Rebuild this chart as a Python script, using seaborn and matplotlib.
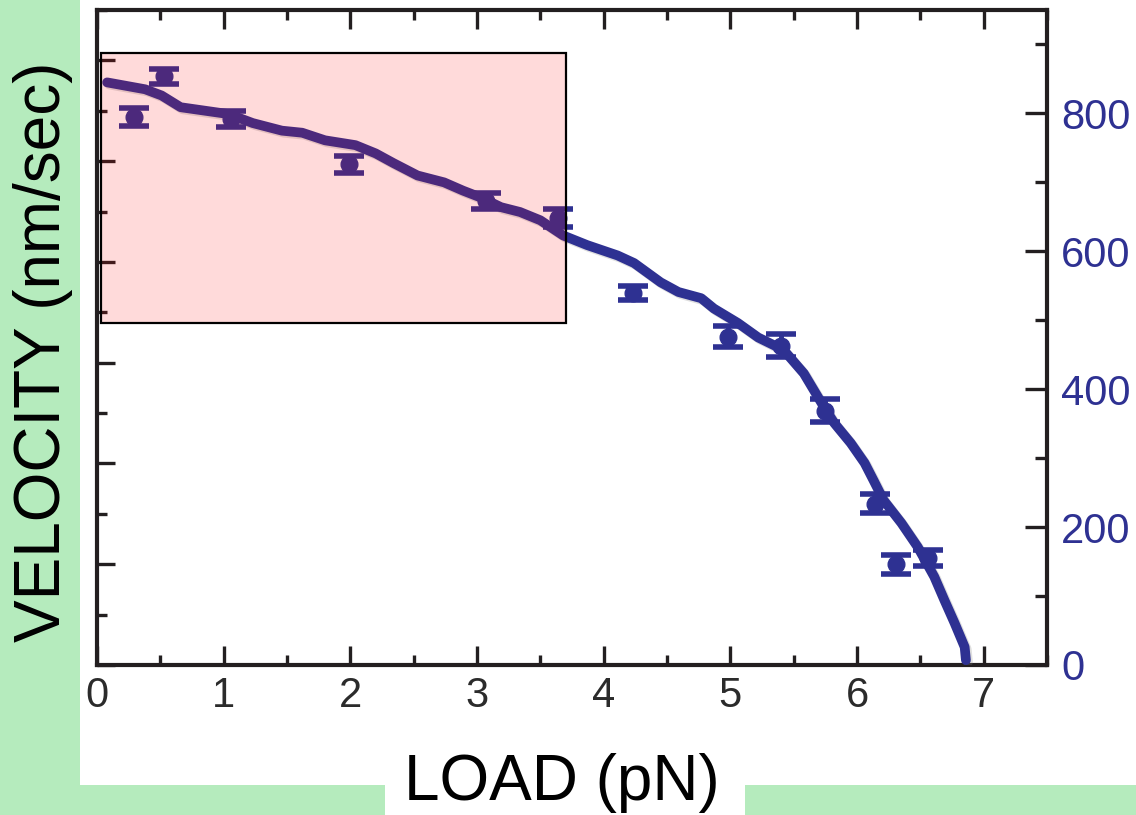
import numpy as np
import pandas as pd
import matplotlib
matplotlib.use("Agg")
import matplotlib.pyplot as plt
import matplotlib.patheffects as pe
from matplotlib.patches import Rectangle
from matplotlib.ticker import MultipleLocator
import seaborn as sns

# Measured points: load (pN), velocity (nm/sec), error (nm/sec)
load_pts = [0.29, 0.53, 1.06, 1.99, 3.07, 3.64, 4.23, 4.98, 5.40, 5.75, 6.14, 6.31, 6.56]
vel_pts = [795, 854, 792, 726, 673, 648, 539, 476, 463, 369, 234, 146, 155]
vel_err = [13, 11, 12, 12, 12, 13, 10, 15, 17, 17, 14, 14, 12]

# Fitted force-velocity curve
curve_load = [0.08, 0.38, 0.51, 0.66, 0.85, 1.04, 1.23, 1.46, 1.62, 1.80, 2.04, 2.20,
              2.34, 2.53, 2.74, 2.89, 3.03, 3.19, 3.34, 3.50, 3.68, 3.87, 4.11, 4.24,
              4.45, 4.59, 4.77, 4.87, 5.06, 5.22, 5.42, 5.58, 5.72, 5.82, 5.95, 6.06,
              6.13, 6.21, 6.35, 6.48, 6.61, 6.69, 6.77, 6.85, 6.86]
curve_vel = [845, 835, 826, 809, 804, 799, 786, 775, 772, 761, 754, 742,
             728, 710, 700, 688, 678, 664, 657, 645, 623, 609, 594, 583,
             555, 541, 532, 517, 496, 475, 457, 423, 380, 351, 322, 293,
             268, 239, 206, 171, 128, 94, 61, 26, 7]

x_ticks = [0, 1, 2, 3, 4, 5, 6, 7]
v_ticks = [0, 200, 400, 600, 800]

# Highlighted region (load, velocity)
box_load = (0.03, 3.70)
box_vel = (496, 888)

pts = pd.DataFrame({"load": load_pts, "vel": vel_pts, "err": vel_err})
fit = pd.DataFrame({"load": curve_load, "vel": curve_vel})

sns.set_theme(style="white")
plt.rcParams["font.family"] = ["Liberation Sans", "DejaVu Sans"]

BLUE = "#2E3192"
INK = "#231F20"
GREEN = "#B5EBBD"

fig = plt.figure(figsize=(11.36, 8.15), dpi=100)
fig.patch.set_facecolor("white")

# green side and bottom bands
fig.patches.append(Rectangle((0, 0), 80 / 1136, 1, transform=fig.transFigure,
                             facecolor=GREEN, edgecolor="none", zorder=0))
fig.patches.append(Rectangle((80 / 1136, 0), (385 - 80) / 1136, 30 / 815,
                             transform=fig.transFigure, facecolor=GREEN,
                             edgecolor="none", zorder=0))
fig.patches.append(Rectangle((745 / 1136, 0), (1136 - 745) / 1136, 30 / 815,
                             transform=fig.transFigure, facecolor=GREEN,
                             edgecolor="none", zorder=0))

ax = fig.add_axes([97 / 1136, 1 - 665 / 815, (1047 - 97) / 1136, (665 - 10) / 815])
ax.set_facecolor("white")
ax.set_xlim(0, 7.5)
ax.set_ylim(0, 13)

# left axis: unlabeled inward ticks
ax.yaxis.set_major_locator(MultipleLocator(2))
ax.yaxis.set_minor_locator(MultipleLocator(1))
ax.set_yticklabels([])
ax.xaxis.set_major_locator(MultipleLocator(1))
ax.xaxis.set_minor_locator(MultipleLocator(0.5))
ax.set_xticks(x_ticks)
ax.set_xticklabels([str(t) for t in x_ticks])
ax.tick_params(axis="x", which="both", direction="in", top=True, bottom=True,
               colors=INK, labelcolor="#2b2b2b", labelsize=30, pad=8)
ax.tick_params(axis="x", which="major", length=14, width=2.4)
ax.tick_params(axis="x", which="minor", length=7, width=2.4)
ax.tick_params(axis="y", which="both", direction="in", left=True, right=False,
               colors=INK, width=2.4)
ax.tick_params(axis="y", which="major", length=13)
ax.tick_params(axis="y", which="minor", length=7)
for s in ax.spines.values():
    s.set_color(INK)
    s.set_linewidth(3)
    s.set_visible(True)

# velocity axis on the right
axv = ax.twinx()
axv.set_ylim(0, 950)
axv.set_xlim(0, 7.5)
axv.set_yticks(v_ticks)
axv.yaxis.set_minor_locator(MultipleLocator(100))
axv.tick_params(axis="y", which="both", direction="in", right=True, left=False,
                colors=INK, labelcolor=BLUE, labelsize=30, pad=10, width=2.4)
axv.tick_params(axis="y", which="major", length=16)
axv.tick_params(axis="y", which="minor", length=9)
for s in axv.spines.values():
    s.set_visible(False)

shadow = [pe.SimpleLineShadow(offset=(1.5, -1.5), alpha=0.25, shadow_color="gray"),
          pe.Normal()]
sns.lineplot(data=fit, x="load", y="vel", ax=axv, color=BLUE, linewidth=7,
             sort=False, zorder=3, path_effects=shadow, legend=False)
axv.errorbar(pts["load"], pts["vel"], yerr=pts["err"], fmt="o", color=BLUE,
             markersize=12, elinewidth=3.5, capsize=10.5, capthick=4, zorder=4)
axv.set_xlabel("")
axv.set_ylabel("")

# translucent highlight box over the low-load data
axv.add_patch(Rectangle((box_load[0], box_vel[0]), box_load[1] - box_load[0],
                        box_vel[1] - box_vel[0], facecolor=(1, 0, 0, 0.145),
                        edgecolor="black", linewidth=1.6, zorder=10))

fig.text(562 / 1136, 1 - 783 / 815, "LOAD (pN)", ha="center", va="center",
         fontsize=46, color="black")
fig.text(43 / 1136, 1 - 352 / 815, "VELOCITY (nm/sec)", ha="center", va="center",
         rotation=90, fontsize=46, color="black")

fig.savefig("out.png", dpi=100)
